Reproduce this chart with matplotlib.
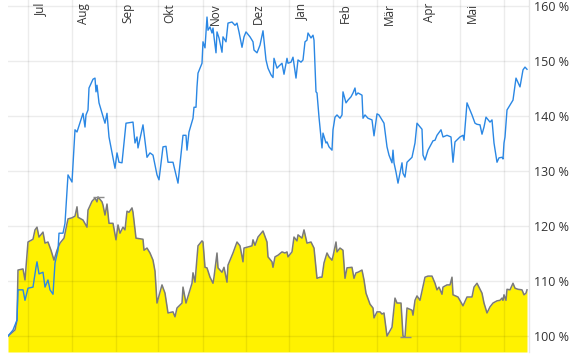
import matplotlib
matplotlib.use("Agg")
import matplotlib.pyplot as plt
import numpy as np

plt.rcParams['font.family'] = ['Open Sans', 'DejaVu Sans']

# x = position in trading samples since the start of the period
month_ticks = [20, 64, 108, 150, 195, 238, 281, 325, 369, 409, 452, 496]
month_labels = ['Jul', 'Aug', 'Sep', 'Okt', 'Nov', 'Dez', 'Jan', 'Feb', 'Mär', 'Apr', 'Mai', '']
y_ticks = [100, 110, 120, 130, 140, 150, 160]

# blue line (performance in %)
blue_t = [0, 5, 9, 10, 15, 17, 20, 25, 28, 29, 31, 35, 37, 40, 42, 45, 47, 50, 51, 55,
          57, 59, 60, 64, 67, 69, 75, 77, 78, 80, 81, 85, 87, 88, 89, 91, 97, 99, 101, 107,
          109, 111, 114, 118, 125, 127, 129, 130, 135, 139, 142, 145, 149, 151, 155, 158, 160, 165, 168, 170,
          175, 178, 179, 181, 185, 186, 188, 189, 190, 194, 195, 197, 199, 200, 202, 204, 205, 206, 208, 209,
          211, 214, 215, 218, 220, 224, 227, 229, 231, 234, 236, 238, 242, 245, 246, 249, 252, 255, 258, 260,
          263, 265, 266, 269, 271, 274, 276, 279, 280, 283, 285, 288, 290, 293, 295, 297, 299, 300, 303, 305,
          306, 308, 309, 311, 314, 315, 318, 319, 321, 324, 325, 327, 329, 332, 334, 335, 338, 340, 343, 345,
          347, 348, 350, 354, 355, 357, 360, 364, 366, 369, 371, 376, 379, 381, 384, 385, 386, 388, 390, 394,
          395, 397, 399, 404, 407, 409, 414, 415, 417, 420, 425, 427, 429, 433, 435, 439, 443, 445, 447, 452,
          455, 456, 459, 464, 467, 469, 472, 474, 476, 478, 482, 484, 486, 489, 491, 494, 495, 496, 497, 499,
          502, 505, 508, 512, 515, 517, 519]
blue_v = [100.0, 101.1, 102.9, 108.4, 108.4, 106.5, 108.7, 108.9, 112.5, 113.5, 111.3, 111.6, 108.9, 110.2, 108.4, 107.6, 113.3, 115.6, 118.7, 118.7,
          120.5, 126.5, 129.3, 128.0, 137.5, 137.1, 140.5, 138.0, 140.2, 141.1, 145.1, 146.7, 146.9, 144.4, 145.6, 142.4, 138.7, 140.5, 136.2, 130.5,
          133.3, 131.6, 131.5, 138.7, 138.9, 135.1, 136.2, 134.2, 138.4, 132.5, 133.3, 132.9, 129.3, 128.4, 134.4, 134.5, 131.6, 131.6, 129.3, 127.8,
          136.5, 136.5, 133.8, 137.1, 139.6, 141.6, 141.6, 145.3, 147.8, 149.6, 153.5, 152.4, 158.0, 155.6, 156.2, 155.1, 156.0, 154.4, 151.5, 155.3,
          154.2, 151.6, 154.4, 153.5, 156.9, 157.1, 156.5, 156.9, 155.3, 152.5, 154.4, 155.3, 154.4, 153.5, 152.0, 151.5, 152.9, 155.5, 150.2, 148.7,
          147.5, 147.0, 150.5, 148.7, 149.1, 149.6, 147.6, 150.5, 149.6, 149.8, 150.7, 146.9, 150.2, 149.8, 150.2, 153.5, 153.8, 155.1, 154.2, 154.7,
          153.8, 144.4, 144.2, 139.8, 134.2, 136.9, 135.1, 135.3, 134.4, 133.8, 137.5, 139.8, 140.2, 139.6, 140.2, 144.4, 142.4, 142.9, 143.5, 144.2,
          145.1, 143.8, 144.2, 143.8, 139.6, 140.2, 139.6, 139.3, 136.4, 140.4, 140.2, 138.7, 134.4, 132.9, 131.5, 133.8, 131.5, 129.8, 127.8, 131.5,
          129.6, 128.9, 131.6, 132.5, 135.1, 138.7, 137.6, 132.9, 132.0, 133.8, 135.5, 135.6, 136.5, 137.5, 136.2, 136.5, 136.2, 131.6, 135.3, 136.2,
          136.5, 135.6, 142.4, 140.2, 138.7, 138.5, 138.4, 136.7, 138.0, 139.8, 138.9, 139.3, 135.1, 131.6, 132.4, 132.5, 132.2, 135.1, 136.2, 141.1,
          142.0, 142.9, 146.9, 145.3, 148.4, 148.9, 148.5]

# yellow area (benchmark in %)
yellow_t = [0, 7, 9, 10, 15, 17, 20, 25, 27, 29, 31, 35, 37, 40, 43, 46, 49, 52, 56, 60,
            64, 67, 69, 70, 75, 79, 80, 84, 87, 89, 90, 94, 95, 97, 99, 101, 105, 108, 110, 112,
            115, 117, 119, 121, 124, 125, 128, 135, 136, 139, 142, 145, 147, 149, 154, 157, 160, 165, 167, 169,
            174, 175, 178, 184, 185, 187, 190, 194, 195, 197, 199, 202, 205, 206, 209, 210, 212, 214, 216, 219,
            220, 222, 225, 229, 232, 235, 236, 240, 244, 245, 247, 250, 255, 259, 260, 264, 265, 267, 270, 274,
            277, 279, 280, 284, 286, 289, 290, 294, 296, 299, 303, 306, 309, 312, 314, 316, 319, 321, 324, 325,
            328, 329, 332, 335, 337, 339, 344, 346, 348, 350, 352, 354, 356, 358, 362, 365, 366, 369, 372, 374,
            376, 379, 384, 387, 389, 393, 395, 397, 399, 404, 405, 407, 409, 412, 417, 420, 424, 427, 429, 431,
            434, 435, 439, 442, 444, 445, 450, 455, 459, 464, 466, 469, 472, 474, 476, 479, 482, 485, 489, 492,
            494, 495, 496, 498, 499, 502, 505, 507, 510, 514, 516, 518, 519]
yellow_v = [100.0, 101.1, 102.9, 112.0, 112.2, 110.2, 117.1, 117.6, 119.3, 119.8, 118.0, 118.9, 116.9, 117.1, 115.6, 113.8, 115.6, 116.9, 117.8, 121.3,
            121.5, 121.8, 123.5, 121.6, 121.1, 119.8, 122.9, 124.5, 125.1, 124.4, 125.3, 124.4, 123.8, 122.0, 124.0, 120.5, 120.5, 117.5, 120.2, 118.7,
            119.8, 119.3, 122.7, 122.5, 123.3, 122.5, 117.8, 117.6, 115.6, 116.0, 115.1, 113.8, 111.8, 106.0, 109.3, 107.8, 104.2, 104.4, 103.5, 105.1,
            106.0, 108.9, 106.0, 109.6, 111.5, 109.8, 116.4, 117.3, 117.1, 112.5, 112.4, 110.7, 109.6, 110.7, 115.1, 112.4, 112.0, 111.6, 112.5, 109.8,
            112.9, 113.8, 115.1, 117.1, 116.4, 113.5, 116.0, 116.2, 116.4, 117.5, 116.5, 118.0, 119.1, 117.1, 114.4, 113.5, 112.5, 114.4, 114.7, 115.3,
            115.1, 115.3, 114.4, 115.3, 118.0, 117.3, 118.4, 117.8, 119.3, 116.9, 117.1, 116.0, 110.5, 110.7, 110.7, 113.3, 115.1, 114.4, 113.8, 114.5,
            117.1, 115.3, 116.0, 115.6, 110.5, 112.4, 112.5, 110.5, 111.5, 111.6, 111.8, 112.0, 110.2, 107.8, 105.8, 105.1, 103.3, 104.4, 104.4, 104.0,
            104.2, 100.0, 101.6, 106.9, 106.0, 106.0, 100.0, 99.8, 105.1, 104.7, 103.8, 106.5, 107.3, 106.5, 110.7, 110.9, 110.9, 109.6, 108.4, 108.9,
            107.6, 108.9, 109.3, 109.3, 110.7, 107.5, 107.1, 105.5, 107.1, 107.1, 108.9, 109.6, 108.5, 107.8, 106.0, 104.2, 105.3, 106.0, 106.4, 106.5,
            106.9, 106.5, 107.5, 106.5, 108.5, 108.4, 109.6, 108.7, 108.5, 108.4, 107.5, 107.8, 108.4]

fig = plt.figure(figsize=(5.77, 3.57), dpi=100)
ax = fig.add_axes([8 / 577, 1 - 352 / 357, 521 / 577, 352 / 357])

ymin, ymax = 97.1, 161.1
ax.fill_between(yellow_t, yellow_v, ymin, color='#fff200', lw=0, zorder=1)
ax.plot(yellow_t, yellow_v, color='#7a7a7a', lw=1.1, zorder=3)
ax.plot(blue_t, blue_v, color='#2a87e4', lw=1.0, zorder=4)

# high / low markers of the yellow series
yv = np.array(yellow_v)
yt = np.array(yellow_t)
for i in (yv.argmax(), yv.argmin()):
    ax.hlines(yv[i], yt[i] - 5.5, yt[i] + 5.5, color='#8c8c8c', lw=1.0, zorder=3)

ax.set_xlim(0, 521)
ax.set_ylim(ymin, ymax)

ax.set_xticks(month_ticks)
ax.set_xticklabels([])
ax.tick_params(axis='x', length=0)
for t, lab in zip(month_ticks, month_labels):
    ax.annotate(lab, xy=(t, 1), xycoords=ax.get_xaxis_transform(),
                xytext=(12, -3), textcoords='offset pixels',
                rotation=90, ha='center', va='top', fontsize=8.5, color='#333333')

ax.yaxis.tick_right()
ax.set_yticks(y_ticks)
ax.set_yticklabels([f'{v} %' for v in y_ticks])
ax.tick_params(axis='y', length=0, pad=3.5, labelsize=9, labelcolor='#333333')

ax.grid(True, color='black', alpha=0.075, lw=1.0, zorder=2)
ax.set_axisbelow(False)
for s in ['left', 'top', 'bottom']:
    ax.spines[s].set_visible(False)
ax.spines['right'].set_color('#e6e6e6')
ax.spines['right'].set_linewidth(1.0)

fig.savefig('out.png', dpi=100)
